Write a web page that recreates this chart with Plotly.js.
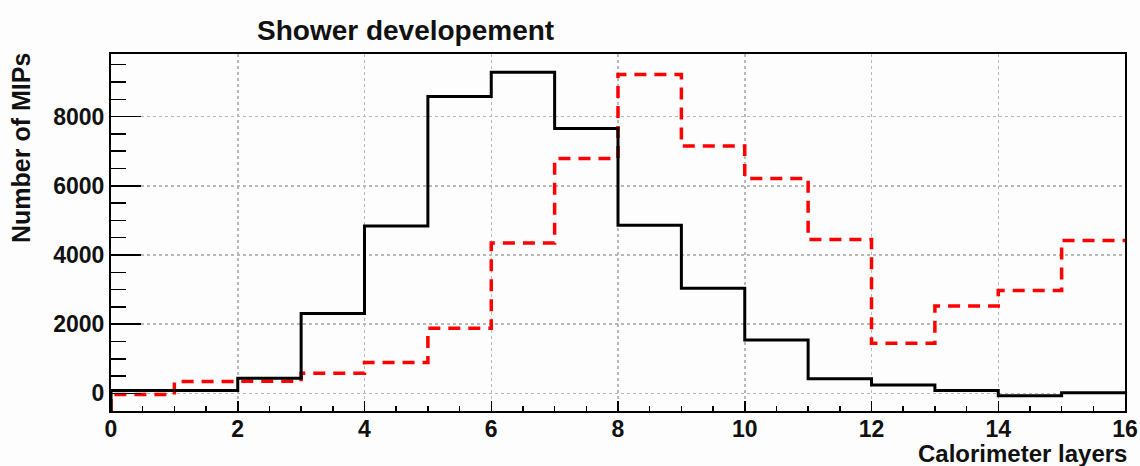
<!DOCTYPE html>
<html>
<head>
<meta charset="utf-8">
<script src="https://cdn.plot.ly/plotly-3.0.1.min.js"></script>
<style>html,body{margin:0;padding:0;background:#fff;}#chart{width:1140px;height:466px;}</style>
</head>
<body>
<div id="chart"></div>
<script>
// Bin edges (calorimeter layers) and contents (number of MIPs)
const binEdges = [0,1,2,3,4,5,6,7,8,9,10,11,12,13,14,15,16];
const blackSeries = [80, 80, 440, 2310, 4840, 8580, 9280, 7660, 4860, 3040, 1540, 420, 240, 80, -70, 20];
const redSeries   = [-30, 340, 350, 580, 890, 1880, 4350, 6790, 9220, 7150, 6210, 4450, 1445, 2525, 2970, 4420];
const xTickVals = [0,2,4,6,8,10,12,14,16];
const yTickVals = [0,2000,4000,6000,8000];
const titleText = "Shower developement";
const xTitleText = "Calorimeter layers";
const yTitleText = "Number of MIPs";

const yRange = [-510, 9810];
const xRange = [0, 16];

function stepXY(vals) {
  // ROOT-like outline: start from the frame bottom, then steps, ending at last edge
  const xs = [binEdges[0]];
  const ys = [yRange[0]];
  for (let i = 0; i < vals.length; i++) { xs.push(binEdges[i]); ys.push(vals[i]); }
  xs.push(binEdges[binEdges.length - 1]); ys.push(vals[vals.length - 1]);
  return {xs, ys};
}

const b = stepXY(blackSeries);
const r = stepXY(redSeries);

const traces = [
  {x: r.xs, y: r.ys, type: 'scatter', mode: 'lines', line: {shape: 'hv', color: '#ff0000', width: 3.5, dash: '12px,8px'}, name: 'red', hoverinfo: 'skip'},
  {x: b.xs, y: b.ys, type: 'scatter', mode: 'lines', line: {shape: 'hv', color: '#000000', width: 3}, name: 'black', hoverinfo: 'skip'}
];

const tickFont = {family: 'Liberation Sans, Arial, sans-serif', size: 23, color: '#111', weight: 'bold'};

const layout = {
  width: 1140, height: 466,
  paper_bgcolor: '#fdfdfd', plot_bgcolor: '#fdfdfd',
  showlegend: false,
  margin: {l: 111, r: 15, t: 54, b: 55, pad: 0},
  xaxis: {
    range: xRange, tickvals: xTickVals, ticktext: xTickVals.map(String),
    ticks: 'inside', ticklen: 10, tickwidth: 1.5, tickcolor: '#000',
    showline: true, linecolor: '#000', linewidth: 2, mirror: true,
    showgrid: true, gridcolor: '#b8b8b8', griddash: 'dot', gridwidth: 1.5,
    zeroline: false, tickfont: tickFont, ticklabelstandoff: -4,
    minor: {dtick: 0.5, ticks: 'inside', ticklen: 5, tickcolor: '#000', tickwidth: 1.5, showgrid: false}
  },
  yaxis: {
    range: yRange, tickvals: yTickVals, ticktext: yTickVals.map(String),
    ticks: 'inside', ticklen: 30, tickwidth: 1.5, tickcolor: '#000',
    showline: true, linecolor: '#000', linewidth: 2, mirror: true,
    showgrid: true, gridcolor: '#b8b8b8', griddash: 'dot', gridwidth: 1.5,
    zeroline: false, tickfont: tickFont,
    minor: {dtick: 500, ticks: 'inside', ticklen: 15, tickcolor: '#000', tickwidth: 1.5, showgrid: false}
  },
  title: {
    text: '<b>' + titleText + '</b>',
    font: {family: 'Liberation Sans, Arial, sans-serif', size: 28, color: '#111'},
    x: 257 / 1140, xanchor: 'left', xref: 'container', y: 1 - 30 / 466, yanchor: 'middle', yref: 'container'
  },
  annotations: [
    {text: '<b>' + xTitleText + '</b>', xref: 'paper', yref: 'paper', x: 1, y: 0, xanchor: 'right', yanchor: 'top',
     xshift: 4, yshift: -27, showarrow: false, font: {family: 'Liberation Sans, Arial, sans-serif', size: 24, color: '#111'}},
    {text: '<b>' + yTitleText + '</b>', xref: 'paper', yref: 'paper', x: 0, y: 1, xanchor: 'right', yanchor: 'top',
     xshift: -74, yshift: 3, textangle: -90, showarrow: false, font: {family: 'Liberation Sans, Arial, sans-serif', size: 25, color: '#111'}}
  ]
};

Plotly.newPlot('chart', traces, layout, {displayModeBar: false, staticPlot: true});
</script>
</body>
</html>
